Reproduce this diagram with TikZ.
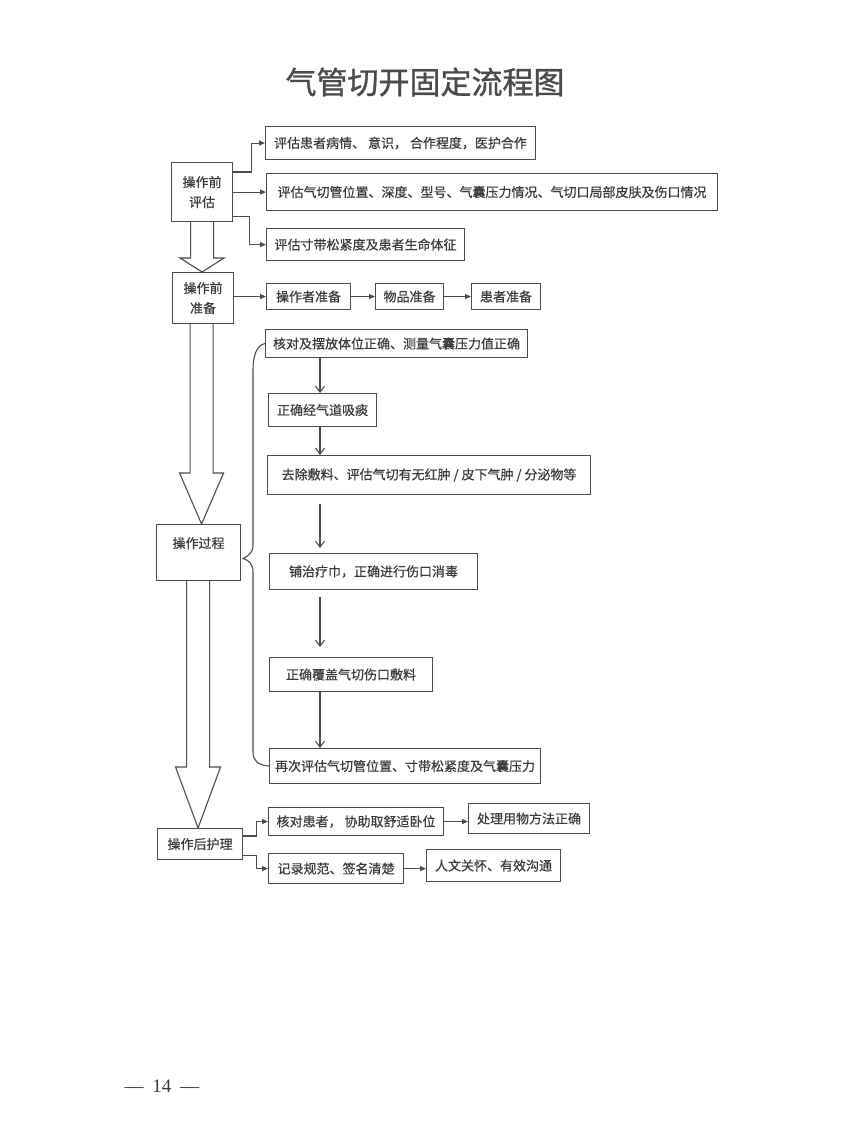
\documentclass[tikz,border=0pt]{standalone}
\usepackage{fontspec}
\newfontfamily\cjk[FakeBold=0.4]{Noto Sans CJK SC}
\newfontfamily\cjkt[FakeBold=1.0]{Noto Sans CJK SC}
\newfontfamily\pnum{Liberation Serif}
\usetikzlibrary{arrows.meta,calc}
\definecolor{txtc}{HTML}{3A3A3A}
\definecolor{linec}{HTML}{4C4C4C}
\definecolor{titc}{HTML}{4A4A4A}
\begin{document}
\begin{tikzpicture}[x=1pt,y=-1pt,
  bx/.style={draw=linec, line width=1.1pt, inner sep=0pt, anchor=north west,
    font=\cjk\fontsize{13}{20}\selectfont, text=txtc, align=center},
  hollow/.style={draw=linec, line width=1.1pt, line join=miter},
  conn/.style={draw=linec, line width=1.1pt, -{Triangle[length=6pt,width=5pt]}},
  varr/.style={draw=linec, line width=1.1pt, -{Straight Barb[length=6pt,width=9pt]}},
  brace/.style={draw=linec, line width=1.1pt}
]
\useasboundingbox[fill=white] (0,0) rectangle (846,1140);

\node[font=\cjkt\fontsize{31}{36}\selectfont, text=titc] (title) at (425,82) {气管切开固定流程图};

% left column
\node[bx, minimum width=61, minimum height=59] (a) at (171,162) {操作前\\评估};
\node[bx, minimum width=61, minimum height=51] (c) at (172,272) {操作前\\准备};
\node[bx, minimum width=84, minimum height=56] (e) at (156,524) {\raisebox{20pt}{操作过程}};
\node[bx, minimum width=85, minimum height=31] (g) at (157,828) {操作后护理};

% assessment boxes
\node[bx, minimum width=270, minimum height=33] (b1) at (265,126) {评估患者病情、 意识， 合作程度，医护合作};
\node[bx, minimum width=451, minimum height=37] (b2) at (266,173) {评估气切管位置、深度、型号、气囊压力情况、气切口局部皮肤及伤口情况};
\node[bx, minimum width=198, minimum height=32] (b3) at (266,228) {评估寸带松紧度及患者生命体征};

% preparation boxes
\node[bx, minimum width=84, minimum height=26] (d1) at (266,283) {操作者准备};
\node[bx, minimum width=68, minimum height=26] (d2) at (375,283) {物品准备};
\node[bx, minimum width=69, minimum height=26] (d3) at (471,283) {患者准备};

% process boxes
\node[bx, minimum width=262, minimum height=28] (f1) at (265,329) {核对及摆放体位正确、测量气囊压力值正确};
\node[bx, minimum width=108, minimum height=33] (f2) at (268,393) {正确经气道吸痰};
\node[bx, minimum width=323, minimum height=39] (f3) at (267,455) {去除敷料、评估气切有无红肿 / 皮下气肿 / 分泌物等};
\node[bx, minimum width=208, minimum height=36] (f4) at (269,553) {铺治疗巾，正确进行伤口消毒};
\node[bx, minimum width=163, minimum height=34] (f5) at (269,657) {正确覆盖气切伤口敷料};
\node[bx, minimum width=271, minimum height=35] (f6) at (269,748) {再次评估气切管位置、寸带松紧度及气囊压力};

% after-care boxes
\node[bx, minimum width=175, minimum height=28] (h1) at (268,807) {核对患者， 协助取舒适卧位};
\node[bx, minimum width=135, minimum height=30] (h2) at (268,853) {记录规范、签名清楚};
\node[bx, minimum width=121, minimum height=30] (h3) at (468,803) {处理用物方法正确};
\node[bx, minimum width=134, minimum height=32] (h4) at (426,849) {人文关怀、有效沟通};

% page number
\node[font=\pnum\fontsize{19}{22}\selectfont, text=txtc] (pn) at (162,1086) {—\hspace{9pt}14\hspace{9pt}—};

% connectors from a
\draw[conn] ($(a.north east)+(0,10)$) -- ++(18,0) |- (b1.west);
\draw[conn] (a.east |- b2.west) -- (b2.west);
\draw[conn] ($(a.south east)+(0,-6)$) -- ++(16,0) |- (b3.west);

% preparation chain
\draw[conn] (c.east |- d1.west) -- (d1.west);
\draw[conn] (d1.east) -- (d2.west);
\draw[conn] (d2.east) -- (d3.west);

% process chain
\coordinate (ax) at (320,0);
\draw[varr] (f1.south -| ax) -- (f2.north -| ax);
\draw[varr] (f2.south -| ax) -- (f3.north -| ax);
\draw[varr, shorten <=9pt, shorten >=5pt] (f3.south -| ax) -- (f4.north -| ax);
\draw[varr, shorten <=7pt, shorten >=10pt] (f4.south -| ax) -- (f5.north -| ax);
\draw[varr] (f5.south -| ax) -- (f6.north -| ax);

% brace
\draw[brace] (f1.west) .. controls (257,345) and (253,355) .. (253,370)
  -- (253,545) .. controls (253,553) and (248,556) .. ($(e.east)+(2,6)$)
  .. controls (248,560) and (253,563) .. (253,572)
  -- (253,752) .. controls (253,761) and (258,765) .. (f6.west);

% after-care connectors
\draw[conn] ($(g.north east)+(0,8)$) -- ++(13,0) |- (h1.west);
\draw[conn] ($(g.south east)+(0,-5)$) -- ++(13,0) |- (h2.west);
\draw[conn] (h1.east) -- (h1.east -| h3.west);
\draw[conn] (h2.east) -- (h2.east -| h4.west);

% hollow arrows
\coordinate (t1) at ($(c.north)+(-1,0)$);
\draw[hollow] ($(a.south -| t1)+(-11.5,0)$) -- ($(t1)+(-11.5,-14)$) -- ($(t1)+(-22,-14)$) -- (t1)
  -- ($(t1)+(22,-14)$) -- ($(t1)+(11.5,-14)$) -- ($(a.south -| t1)+(11.5,0)$);
\coordinate (t2) at ($(e.north)+(3,0)$);
\draw[hollow] ($(c.south -| t2)+(-11.5,0)$) -- ($(t2)+(-11.5,-51)$) -- ($(t2)+(-22,-51)$) -- (t2)
  -- ($(t2)+(22,-51)$) -- ($(t2)+(11.5,-51)$) -- ($(c.south -| t2)+(11.5,0)$);
\coordinate (t3) at ($(g.north)+(-2,0)$);
\draw[hollow] ($(e.south -| t3)+(-11.5,0)$) -- ($(t3)+(-11.5,-61)$) -- ($(t3)+(-22.5,-61)$) -- (t3)
  -- ($(t3)+(22.5,-61)$) -- ($(t3)+(11.5,-61)$) -- ($(e.south -| t3)+(11.5,0)$);
\end{tikzpicture}
\end{document}
